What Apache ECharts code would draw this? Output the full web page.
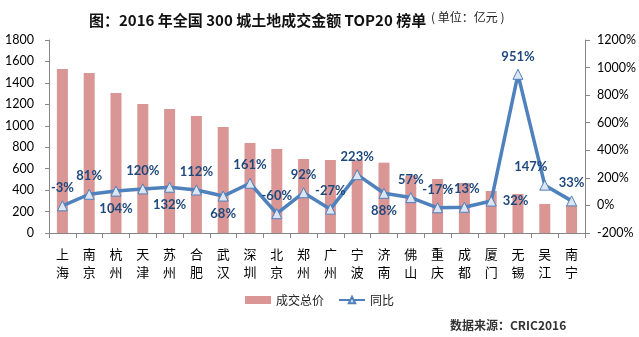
<!DOCTYPE html>
<html><head><meta charset="utf-8">
<script src="https://cdn.jsdelivr.net/npm/echarts@6/dist/echarts.min.js"></script>
<style>html,body{margin:0;padding:0;background:#fff}#c{width:639px;height:337px}</style>
</head><body><div id="c"></div>
<script>
const cities = ['上海','南京','杭州','天津','苏州','合肥','武汉','深圳','北京','郑州','广州','宁波','济南','佛山','重庆','成都','厦门','无锡','吴江','南宁'];
const totals = [1530,1492,1306,1203,1157,1091,989,840,784,690,681,680,656,535,504,466,392,364,271,261];
const yoy = [-3,81,104,120,132,112,68,161,-60,92,-27,223,88,57,-17,-13,32,951,147,33];
const leftTicks = {min:0, max:1800, interval:200};
const rightTicks = {min:-200, max:1200, interval:200};
const labelPos = ['top','top','bottom','top','bottom','top','bottom','top','top','top','top','top','bottom','top','top','top','right','top','top','top'];
const labelShift = [0,0,0,0,0,0,0,0,0,0,0,0,0,0,0,0,0,0,-14,0];

const numFont = 'Lato, "Open Sans", "Noto Sans CJK SC", sans-serif';
const chart = echarts.init(document.getElementById('c'), null, {renderer:'canvas'});
chart.setOption({
  animation:false,
  backgroundColor:'#fff',
  title:{
    text:'图：2016 年全国 300 城土地成交金额 TOP20 榜单',
    left:84, top:8,
    textStyle:{fontSize:15, fontWeight:'bold', color:'#111', fontFamily:'"Noto Sans CJK SC", sans-serif'}
  },
  graphic:[
    {type:'text', left:431, top:11, style:{text:'( 单位：亿元 )', fill:'#222', font:'12px "Noto Sans CJK SC"'}},
    {type:'text', left:450, top:319, style:{text:'数据来源：CRIC2016', fill:'#333', font:'bold 12px "Noto Sans CJK SC"'}}
  ],
  legend:{
    top:289, left:'center', itemGap:14,
    textStyle:{fontSize:12, color:'#222', fontFamily:'"Noto Sans CJK SC"'},
    data:[{name:'成交总价', icon:'rect', itemStyle:{color:'#D99694'}}, {name:'同比'}],
    itemWidth:26, itemHeight:8
  },
  grid:{left:49, right:51, top:40, bottom:104},
  xAxis:{
    type:'category', data:cities,
    axisLine:{lineStyle:{color:'#868686'}},
    axisTick:{show:true, length:5, lineStyle:{color:'#868686'}},
    axisLabel:{interval:0, formatter:v=>v.split('').join('\n'), lineHeight:18, margin:12, fontSize:13, color:'#000', fontFamily:'"Noto Sans CJK SC"'}
  },
  yAxis:[
    {type:'value', ...leftTicks, splitLine:{show:false},
     axisLine:{show:true, lineStyle:{color:'#868686'}}, axisTick:{show:true, length:4, lineStyle:{color:'#868686'}},
     axisLabel:{fontSize:12.5, color:'#000', fontFamily:numFont, margin:15, formatter:v=>String(v)}},
    {type:'value', ...rightTicks, splitLine:{show:false},
     axisLine:{show:true, lineStyle:{color:'#868686'}}, axisTick:{show:true, length:5, lineStyle:{color:'#868686'}},
     axisLabel:{fontSize:12.5, color:'#000', fontFamily:numFont, margin:12, formatter:v=>v+'%'}}
  ],
  series:[
    {name:'成交总价', type:'bar', data:totals, barWidth:11, itemStyle:{color:'#D99694'}, yAxisIndex:0},
    {name:'同比', type:'line', yAxisIndex:1,
     data:yoy.map((v,i)=>({value:v, label:{position:labelPos[i], offset:[labelShift[i],0]}})),
     lineStyle:{color:'#4F81BD', width:3.5},
     symbol:'triangle', symbolSize:10,
     itemStyle:{color:'#DCE6F2', borderColor:'#4F81BD', borderWidth:1},
     label:{show:true, formatter:'{c}%', color:'#1F497D', fontWeight:'bold', fontSize:13, fontFamily:numFont, distance:6},
     z:5}
  ]
});
</script></body></html>
